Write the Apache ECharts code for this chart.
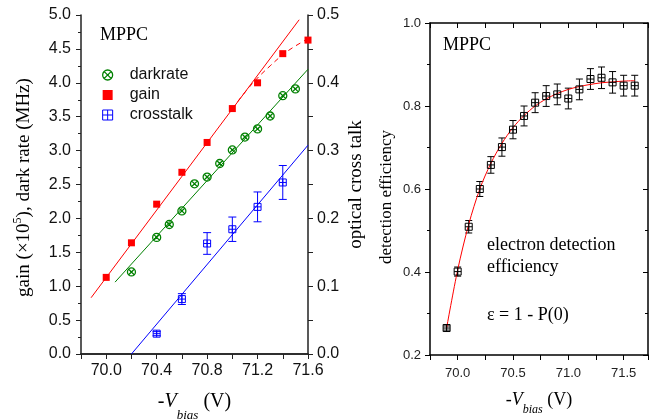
<!DOCTYPE html>
<html><head><meta charset="utf-8">
<script src="https://cdn.jsdelivr.net/npm/echarts/dist/echarts.min.js"></script>
<style>html,body{margin:0;padding:0;background:#fff}#c{width:649px;height:419px}</style>
</head><body><div id="c"></div>
<script>
// ---- data (left panel) ----
const gainV   = [70.0, 70.2, 70.4, 70.6, 70.8, 71.0, 71.2, 71.4, 71.6];
const gainVal = [1.13, 1.64, 2.21, 2.68, 3.12, 3.62, 4.00, 4.43, 4.63];
const darkV   = [70.2, 70.4, 70.5, 70.6, 70.7, 70.8, 70.9, 71.0, 71.1, 71.2, 71.3, 71.4, 71.5];
const darkVal = [1.21, 1.72, 1.91, 2.11, 2.51, 2.61, 2.81, 3.01, 3.20, 3.32, 3.51, 3.81, 3.91];
const xtalkV   = [70.4, 70.6, 70.8, 71.0, 71.2, 71.4];
const xtalkVal = [0.030, 0.081, 0.163, 0.184, 0.217, 0.253];
const xtalkErr = [0.003, 0.008, 0.016, 0.018, 0.022, 0.025];
const gainFitV   = [69.88, 71.53];
const gainFitVal = [0.83, 4.93];
const gainBendV   = [71.0, 71.15, 71.3, 71.44, 71.6];
const gainBendVal = [3.62, 3.97, 4.25, 4.47, 4.65];
const darkFitV   = [70.07, 71.6];
const darkFitVal = [1.06, 4.20];
const xtalkFitV   = [70.2, 71.6];
const xtalkFitVal = [0.0, 0.308];
// ---- data (right panel) ----
const effV   = [69.9, 70.0, 70.1, 70.2, 70.3, 70.4, 70.5, 70.6, 70.7, 70.8, 70.9, 71.0, 71.1, 71.2, 71.3, 71.4, 71.5, 71.6];
const effVal = [0.265, 0.401, 0.509, 0.600, 0.658, 0.701, 0.743, 0.776, 0.808, 0.824, 0.828, 0.818, 0.840, 0.865, 0.868, 0.857, 0.849, 0.849];
const effErr = [0.005, 0.011, 0.015, 0.018, 0.020, 0.022, 0.022, 0.024, 0.024, 0.025, 0.025, 0.025, 0.025, 0.025, 0.026, 0.026, 0.025, 0.025];
const effFitV   = [69.9, 70.0, 70.1, 70.2, 70.3, 70.4, 70.5, 70.6, 70.7, 70.8, 70.9, 71.0, 71.1, 71.2, 71.3, 71.4, 71.5, 71.6];
const effFitVal = [0.265, 0.405, 0.515, 0.600, 0.662, 0.710, 0.748, 0.777, 0.800, 0.817, 0.830, 0.840, 0.847, 0.852, 0.856, 0.858, 0.860, 0.861];
// tick labels
const leftXTicks  = ['70.0', '70.4', '70.8', '71.2', '71.6'];
const rightXTicks = ['70.0', '70.5', '71.0', '71.5'];

const pairs = (xs, ys) => xs.map((x, i) => [x, ys[i]]);
const triples = (xs, ys, es) => xs.map((x, i) => [x, ys[i], es[i]]);

const RED = '#ff0000', GREEN = '#008000', BLUE = '#0000ff', BLACK = '#000000';
const SERIF = 'Liberation Serif', SANS = 'Liberation Sans';
const SYM_CIRCLE_X = 'path://M10,5A5,5,0,1,1,0,5A5,5,0,1,1,10,5ZM1.6,1.6L8.4,8.4M8.4,1.6L1.6,8.4';
const SYM_SQ_PLUS = 'path://M0,0L10,0L10,10L0,10ZM5,0L5,10M0,5L10,5';

function errBar(color, cap) {
  return function (params, api) {
    const x = api.value(0), y = api.value(1), e = api.value(2);
    const p1 = api.coord([x, y + e]), p2 = api.coord([x, y - e]);
    const st = { stroke: color, lineWidth: 1, fill: null };
    return { type: 'group', children: [
      { type: 'line', shape: { x1: p1[0], y1: p1[1], x2: p2[0], y2: p2[1] }, style: st },
      { type: 'line', shape: { x1: p1[0] - cap, y1: p1[1], x2: p1[0] + cap, y2: p1[1] }, style: st },
      { type: 'line', shape: { x1: p2[0] - cap, y1: p2[1], x2: p2[0] + cap, y2: p2[1] }, style: st }
    ]};
  };
}

const axisLineL = { show: true, lineStyle: { color: '#222', width: 1.5 } };
const axisLineR = { show: true, lineStyle: { color: '#000', width: 1.5 } };

const xNameRich = (fs, sfs, pad) => ({
  t: { fontFamily: SERIF, fontSize: fs, lineHeight: fs + 2, verticalAlign: 'top', color: '#000' },
  i: { fontFamily: SERIF, fontSize: fs, fontStyle: 'italic', lineHeight: fs + 2, verticalAlign: 'top', color: '#000' },
  s: { fontFamily: SERIF, fontSize: sfs, fontStyle: 'italic', lineHeight: sfs + 2, verticalAlign: 'top', padding: [pad, 0, 0, 0], color: '#000' }
});

const chart = echarts.init(document.getElementById('c'), null, { renderer: 'canvas' });
chart.setOption({
  animation: false,
  backgroundColor: '#fff',
  grid: [
    { left: 81, top: 15, width: 227, height: 339, containLabel: false, outerBoundsMode: 'none' },
    { left: 430, top: 23, width: 218, height: 332, containLabel: false, outerBoundsMode: 'none' }
  ],
  legend: {
    left: 97, top: 62, orient: 'vertical', itemWidth: 10, itemHeight: 10, itemGap: 4,
    textStyle: { fontFamily: SANS, fontSize: 16, color: '#111', lineHeight: 16, padding: [0, 0, 0, 12] },
    data: [
      { name: 'darkrate', icon: SYM_CIRCLE_X, itemStyle: { color: 'rgba(0,0,0,0)', borderColor: GREEN, borderWidth: 1.3 } },
      { name: 'gain', icon: 'rect', itemStyle: { color: RED } },
      { name: 'crosstalk', icon: SYM_SQ_PLUS, itemStyle: { color: 'rgba(0,0,0,0)', borderColor: BLUE, borderWidth: 1 } }
    ]
  },
  xAxis: [
    { gridIndex: 0, type: 'value', position: 'bottom', min: 69.8, max: 71.6, interval: 0.2,
      axisLine: axisLineL, splitLine: { show: false },
      axisTick: { show: true, inside: false, length: 5, lineStyle: { color: '#222' } },
      axisLabel: { margin: 9, fontFamily: SANS, fontSize: 16, color: '#111',
        formatter: v => { const s = v.toFixed(1); return leftXTicks.includes(s) && Math.abs(v - parseFloat(s)) < 1e-6 ? s : ''; } },
      name: '{t|-}{i|V}{s|bias}{t| (V)}', nameLocation: 'middle', nameGap: 38,
      nameTextStyle: { rich: xNameRich(20, 13, 17) } },
    { gridIndex: 0, type: 'value', position: 'top', min: 69.8, max: 71.6, interval: 0.2,
      axisLine: axisLineL, splitLine: { show: false },
      axisTick: { show: true, inside: true, length: 4, lineStyle: { color: '#222' } },
      axisLabel: { show: false } },
    { gridIndex: 1, type: 'value', position: 'bottom', min: 69.75, max: 71.72, interval: 0.25,
      axisLine: axisLineR, splitLine: { show: false },
      axisTick: { show: true, inside: false, length: 5, lineStyle: { color: '#000' } },
      axisLabel: { margin: 12, fontFamily: SANS, fontSize: 13, color: '#222',
        formatter: v => { const s = v.toFixed(1); return rightXTicks.includes(s) && Math.abs(v - parseFloat(s)) < 1e-6 ? s : ''; } },
      name: '{t|-}{i|V}{s|bias}{t| (V)}', nameLocation: 'middle', nameGap: 36,
      nameTextStyle: { rich: xNameRich(18, 12, 13) } },
    { gridIndex: 1, type: 'value', position: 'top', min: 69.75, max: 71.72, interval: 0.25,
      axisLine: axisLineR, splitLine: { show: false },
      axisTick: { show: true, inside: true, length: 5, lineStyle: { color: '#000' } },
      axisLabel: { show: false } }
  ],
  yAxis: [
    { gridIndex: 0, type: 'value', position: 'left', min: 0, max: 5, interval: 0.5,
      axisLine: axisLineL, splitLine: { show: false },
      axisTick: { show: true, inside: false, length: 5, lineStyle: { color: '#222' } },
      minorTick: { show: true, splitNumber: 2, length: 3, lineStyle: { color: '#222' } },
      minorSplitLine: { show: false },
      axisLabel: { margin: 10, fontFamily: SANS, fontSize: 16, color: '#111', formatter: v => v.toFixed(1) },
      name: '{t|gain (×10}{sup|5}{t|), dark rate (MHz)}', nameLocation: 'middle', nameGap: 47, nameRotate: 90,
      nameTextStyle: { padding: [0, 6, 0, 0], rich: {
        t: { fontFamily: SERIF, fontSize: 19, lineHeight: 22, color: '#000', verticalAlign: 'bottom' },
        sup: { fontFamily: SERIF, fontSize: 12, lineHeight: 12, color: '#000', verticalAlign: 'top' } } } },
    { gridIndex: 0, type: 'value', position: 'right', min: 0, max: 0.5, interval: 0.1,
      axisLine: axisLineL, splitLine: { show: false },
      axisTick: { show: true, inside: false, length: 5, lineStyle: { color: '#222' } },
      minorTick: { show: true, splitNumber: 2, length: 5, lineStyle: { color: '#222' } },
      minorSplitLine: { show: false },
      axisLabel: { margin: 9, fontFamily: SANS, fontSize: 16, color: '#111', formatter: v => v.toFixed(1) },
      name: 'optical cross talk', nameLocation: 'middle', nameGap: 39, nameRotate: 90,
      nameTextStyle: { fontFamily: SERIF, fontSize: 19, color: '#000' } },
    { gridIndex: 1, type: 'value', position: 'left', min: 0.2, max: 1.0, interval: 0.2,
      axisLine: axisLineR, splitLine: { show: false },
      axisTick: { show: true, inside: false, length: 5, lineStyle: { color: '#000' } },
      minorTick: { show: true, splitNumber: 2, length: 3, lineStyle: { color: '#000' } },
      minorSplitLine: { show: false },
      axisLabel: { margin: 9, fontFamily: SANS, fontSize: 13, color: '#222', formatter: v => v.toFixed(1) },
      name: 'detection efficiency', nameLocation: 'middle', nameGap: 35, nameRotate: 90,
      nameTextStyle: { fontFamily: SERIF, fontSize: 17, color: '#000', padding: [0, 16, 0, 0] } },
    { gridIndex: 1, type: 'value', position: 'right', min: 0.2, max: 1.0, interval: 0.2,
      axisLine: axisLineR, splitLine: { show: false },
      axisTick: { show: true, inside: true, length: 5, lineStyle: { color: '#000' } },
      minorTick: { show: true, splitNumber: 2, length: 3, lineStyle: { color: '#000' } },
      minorSplitLine: { show: false },
      axisLabel: { show: false } }
  ],
  graphic: [
    { type: 'text', left: 100, top: 26, style: { text: 'MPPC', fontFamily: SERIF, fontSize: 18, fill: '#000' } },
    { type: 'text', left: 443, top: 36, style: { text: 'MPPC', fontFamily: SERIF, fontSize: 18, fill: '#000' } },
    { type: 'text', left: 487, top: 236, style: { text: 'electron detection', fontFamily: SERIF, fontSize: 18, fill: '#000' } },
    { type: 'text', left: 487, top: 258, style: { text: 'efficiency', fontFamily: SERIF, fontSize: 18, fill: '#000' } },
    { type: 'text', left: 487, top: 306, style: { text: 'ε = 1 - P(0)', fontFamily: SERIF, fontSize: 18, fill: '#000' } }
  ],
  series: [
    { name: 'gainFit', type: 'line', xAxisIndex: 0, yAxisIndex: 0, data: pairs(gainFitV, gainFitVal),
      showSymbol: false, symbol: 'none', lineStyle: { color: RED, width: 1 }, silent: true },
    { name: 'gainBend', type: 'line', xAxisIndex: 0, yAxisIndex: 0, data: pairs(gainBendV, gainBendVal),
      smooth: 0.4, symbol: 'none', lineStyle: { color: RED, width: 1, type: [5, 4] }, silent: true },
    { name: 'darkFit', type: 'line', xAxisIndex: 0, yAxisIndex: 0, data: pairs(darkFitV, darkFitVal),
      symbol: 'none', lineStyle: { color: GREEN, width: 1 }, silent: true },
    { name: 'xtalkFit', type: 'line', xAxisIndex: 0, yAxisIndex: 1, data: pairs(xtalkFitV, xtalkFitVal),
      symbol: 'none', lineStyle: { color: BLUE, width: 1 }, silent: true },
    { name: 'crosstalkErr', type: 'custom', xAxisIndex: 0, yAxisIndex: 1, data: triples(xtalkV, xtalkVal, xtalkErr),
      renderItem: errBar(BLUE, 4), encode: { x: 0, y: 1 }, z: 3 },
    { name: 'darkrate', type: 'scatter', xAxisIndex: 0, yAxisIndex: 0, data: pairs(darkV, darkVal),
      symbol: SYM_CIRCLE_X, symbolSize: 8, itemStyle: { color: 'rgba(0,0,0,0)', borderColor: GREEN, borderWidth: 1.3, opacity: 1 }, z: 4 },
    { name: 'gain', type: 'scatter', xAxisIndex: 0, yAxisIndex: 0, data: pairs(gainV, gainVal),
      symbol: 'rect', symbolSize: 7, itemStyle: { color: RED, opacity: 1 }, z: 4 },
    { name: 'crosstalk', type: 'scatter', xAxisIndex: 0, yAxisIndex: 1, data: pairs(xtalkV, xtalkVal),
      symbol: SYM_SQ_PLUS, symbolSize: 7, itemStyle: { color: 'rgba(0,0,0,0)', borderColor: BLUE, borderWidth: 1, opacity: 1 }, z: 4 },
    { name: 'effFit', type: 'line', xAxisIndex: 2, yAxisIndex: 2, data: pairs(effFitV, effFitVal),
      smooth: 0.3, symbol: 'none', lineStyle: { color: RED, width: 1 }, silent: true },
    { name: 'effErr', type: 'custom', xAxisIndex: 2, yAxisIndex: 2, data: triples(effV, effVal, effErr),
      renderItem: errBar(BLACK, 3.5), encode: { x: 0, y: 1 }, z: 3 },
    { name: 'efficiency', type: 'scatter', xAxisIndex: 2, yAxisIndex: 2, data: pairs(effV, effVal),
      symbol: SYM_SQ_PLUS, symbolSize: 7, itemStyle: { color: 'rgba(0,0,0,0)', borderColor: BLACK, borderWidth: 1, opacity: 1 }, z: 4 }
  ]
});
</script></body></html>
